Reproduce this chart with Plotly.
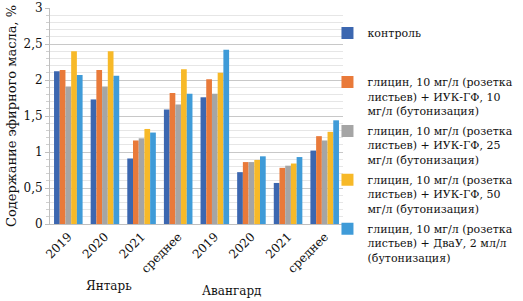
import plotly.graph_objects as go

categories = ["2019", "2020", "2021", "среднее", "2019", "2020", "2021", "среднее"]
groups = ["Янтарь", "Авангард"]
series_names = [
    "контроль",
    "глицин, 10 мг/л (розетка<br>листьев) + ИУК-ГФ, 10<br>мг/л (бутонизация)",
    "глицин, 10 мг/л (розетка<br>листьев) + ИУК-ГФ, 25<br>мг/л (бутонизация)",
    "глицин, 10 мг/л (розетка<br>листьев) + ИУК-ГФ, 50<br>мг/л (бутонизация)",
    "глицин, 10 мг/л (розетка<br>листьев) + ДваУ, 2 мл/л<br>(бутонизация)",
]
control = [2.12, 1.73, 0.91, 1.59, 1.76, 0.72, 0.57, 1.02]
iuk10 = [2.14, 2.14, 1.16, 1.82, 2.01, 0.86, 0.78, 1.22]
iuk25 = [1.91, 1.91, 1.19, 1.66, 1.81, 0.86, 0.81, 1.16]
iuk50 = [2.40, 2.40, 1.32, 2.15, 2.10, 0.89, 0.84, 1.28]
dvau = [2.07, 2.06, 1.27, 1.81, 2.42, 0.94, 0.93, 1.44]
values = [control, iuk10, iuk25, iuk50, dvau]
colors = ["#3C67B0", "#E97A3A", "#A5A5A5", "#F7B928", "#3F9BD8"]

FONT = "DejaVu Serif"
xs = list(range(len(categories)))

fig = go.Figure()
for i, (name, vals, col) in enumerate(zip(series_names, values, colors)):
    label = name if "<br>" in name else name + "<br> <br> "
    fig.add_trace(go.Bar(x=xs, y=vals, name=label, legendgroup=f"g{i}",
                         marker=dict(color=col, line=dict(width=0))))

fig.update_layout(
    width=523, height=301,
    margin=dict(l=50, r=180, t=8, b=77, autoexpand=False),
    paper_bgcolor="white", plot_bgcolor="white",
    barmode="group", bargap=0.22, bargroupgap=0,
    font=dict(family=FONT, size=12, color="#111"),
    showlegend=True,
    legend=dict(x=0.947, y=0.947, xanchor="left", yanchor="top",
                valign="top", font=dict(family=FONT, size=11, color="#111"),
                bgcolor="rgba(0,0,0,0)", tracegroupgap=3, itemwidth=30,
                maxheight=300),
    xaxis=dict(tickmode="array", tickvals=xs, ticktext=categories, range=[-0.5, 7.5],
               tickangle=-45, showgrid=False, showline=True, linecolor="#BFBFBF",
               ticks="", automargin=False, tickfont=dict(family=FONT, size=12, color="#111")),
    yaxis=dict(range=[0, 3], dtick=0.5, automargin=False,
               showgrid=True, gridcolor="#C8C8C8", gridwidth=1,
               showline=True, linecolor="#BFBFBF", zeroline=False,
               ticks="outside", ticklen=4, tickcolor="#BFBFBF",
               minor=dict(dtick=0.1, showgrid=True, gridcolor="#E6E6E6", ticks="outside",
                          ticklen=3, tickcolor="#D0D0D0"),
               tickfont=dict(family=FONT, size=12, color="#111"),
               title=dict(text="Содержание эфирного масла, %", font=dict(family=FONT, size=13, color="#111"),
                          standoff=3)),
    separators=", ",
)

fig.add_annotation(text=groups[0], x=1.1, y=-0.33, xref="x", yref="paper",
                   showarrow=False, font=dict(family=FONT, size=12, color="#111"))
fig.add_annotation(text=groups[1], x=4.46, y=-0.35, xref="x", yref="paper",
                   showarrow=False, font=dict(family=FONT, size=12, color="#111"))

fig.write_html("out.html", config={"displayModeBar": False},
               post_script="document.body.style.margin='0';")
